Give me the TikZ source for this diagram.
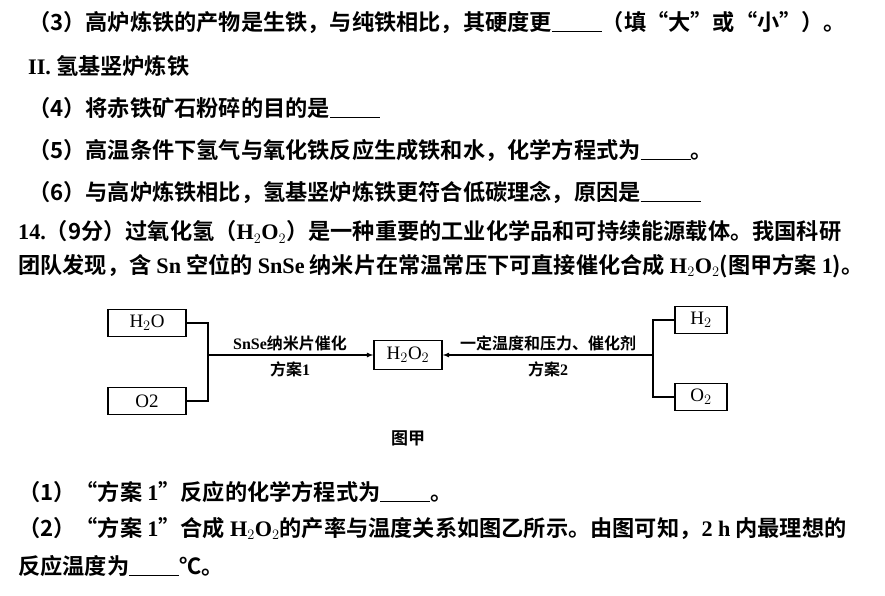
\documentclass[tikz,border=0pt]{standalone}
\usepackage{fontspec}
\setmainfont{Noto Sans CJK SC}[BoldFont={* Bold}]
\newfontfamily\lat{Liberation Serif}
\newcommand{\blk}[1]{\rule[-2pt]{#1pt}{1.4pt}}
\newcommand{\hho}{{\lat\bfseries H$_2$O$_2$}}
\begin{document}
\begin{tikzpicture}[x=1pt,y=-1pt,
  line/.style={anchor=west,font=\fontsize{22.2}{24}\selectfont\bfseries,inner sep=0},
  box/.style={draw,line width=1.4pt,minimum height=27pt,font=\fontsize{19}{21}\selectfont\lat},
  lab/.style={font=\fontsize{16}{18}\selectfont\bfseries},
  conn/.style={line width=1.2pt}]
\useasboundingbox (0,0) rectangle (885,595);
\node[line] (l1) at (28,22) {（3）高炉炼铁的产物是生铁，与纯铁相比，其硬度更\blk{50}（填“大”或“小”）。};
\node[line] (l2) at (28,66) {{\lat II.} 氢基竖炉炼铁};
\node[line] (l3) at (28,108) {（4）将赤铁矿石粉碎的目的是\blk{50}};
\node[line] (l4) at (28,150) {（5）高温条件下氢气与氧化铁反应生成铁和水，化学方程式为\blk{50}。};
\node[line] (l5) at (28,192) {（6）与高炉炼铁相比，氢基竖炉炼铁更符合低碳理念，原因是\blk{60}};
\node[line] (l6) at (18,232) {{\lat 14.}（9分）过氧化氢（\hho）是一种重要的工业化学品和可持续能源载体。我国科研};
\node[line] (l7) at (18,266) {团队发现，含 {\lat Sn} 空位的 {\lat SnSe} 纳米片在常温常压下可直接催化合成 \hho(图甲方案 {\lat 1})。};
\node[line] (l8) at (18,492) {（1）“方案 {\lat 1}”反应的化学方程式为\blk{50}。};
\node[line] (l9) at (18,528) {（2）“方案 {\lat 1}”合成 \hho 的产率与温度关系如图乙所示。由图可知，{\lat 2 h} 内最理想的};
\node[line] (l10) at (18,566) {反应温度为\blk{50}℃。};
% diagram
\node[box,minimum width=78pt] (a) at (147,323) {H$_2$O};
\node[box,minimum width=78pt] (b) at (147,401) {O2};
\node[box,minimum width=68pt,minimum height=29pt] (c) at (408,355) {H$_2$O$_2$};
\node[box,minimum width=52pt] (d) at (701,320) {H$_2$};
\node[box,minimum width=52pt] (e) at (701,397) {O$_2$};
\coordinate (lj) at (208,355);
\coordinate (rj) at (653,355);
\draw[conn] (a.east) -| (lj) |- (b.east);
\draw[conn] (d.west) -| (rj) |- (e.west);
\draw[conn,-latex] (lj) -- (c.west);
\draw[conn,-latex] (rj) -- (c.east);
\node[lab] (t1) at (290,343) {{\lat\bfseries SnSe}纳米片催化};
\node[lab] (t2) at (290,369) {方案{\lat\bfseries 1}};
\node[lab] (t3) at (548,343) {一定温度和压力、催化剂};
\node[lab] (t4) at (548,369) {方案{\lat\bfseries 2}};
\node[lab,font=\fontsize{17}{19}\selectfont\bfseries] (t5) at (408,438) {图甲};
\end{tikzpicture}
\end{document}
